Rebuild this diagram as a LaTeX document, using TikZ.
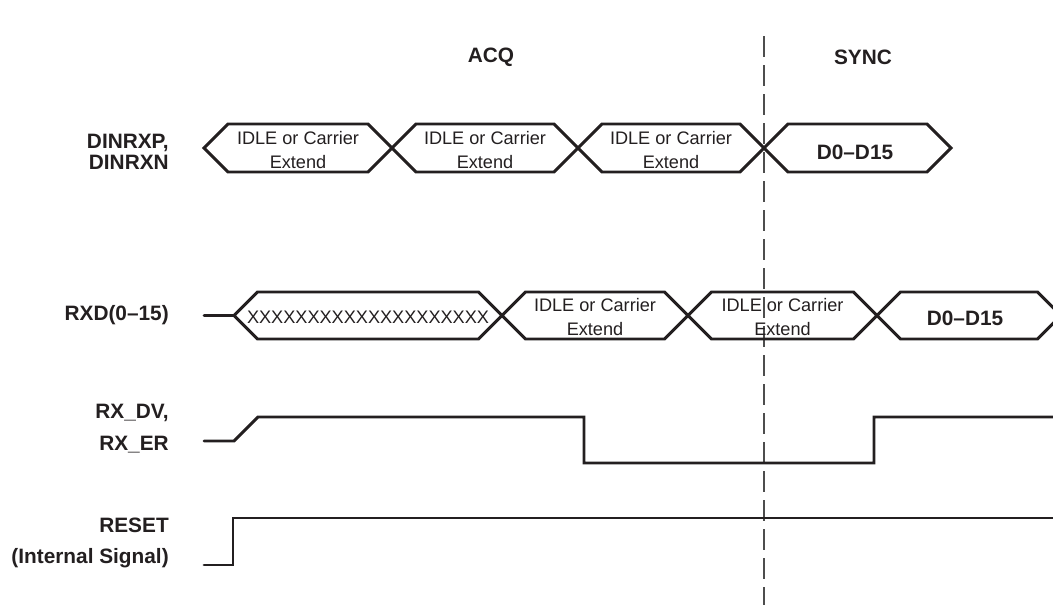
\documentclass[tikz,border=0pt]{standalone}
\usepackage{fontspec}
\setmainfont{Liberation Sans}
\usepackage{xcolor}
\usepackage{tikz}
\usetikzlibrary{positioning}
\definecolor{ink}{HTML}{231F20}
\definecolor{dashgray}{HTML}{4D4D4D}
\tikzset{
  sig/.style={draw=ink, line width=2.1pt, line join=miter, line cap=round},
  phase/.style={draw=dashgray, line width=0.85pt, dash pattern=on 0.525cm off 0.2cm},
  lbl/.style={anchor=east, align=right, text=ink, font=\fontsize{14.8}{15}\selectfont\bfseries, inner sep=0pt},
  busl/.style={align=center, text=ink, font=\fontsize{12.9}{16.4}\selectfont, inner sep=0pt},
  busb/.style={text=ink, font=\fontsize{14.8}{16}\selectfont\bfseries, inner sep=0pt},
}
\newcommand{\buspath}[4]{% left, right, middle, half height
  (#1,#3) -- ++(#4,-#4) -- ({#2-#4},{#3-#4}) -- (#2,#3) -- ({#2-#4},{#3+#4}) -- ({#1+#4},{#3+#4}) -- cycle}
\begin{document}
\begin{tikzpicture}[x=0.025cm, y=-0.025cm]
  \useasboundingbox (0,0) rectangle (1053,605);
  % phase labels and boundary
  \node[busb] (acq) at (491,57) {ACQ};
  \node[busb] (sync) at (863,57) {SYNC};
  \draw[phase] (764,36) -- (764,605);
  % signal names
  \node[lbl] (ndin) at (169,152) {DINRXP,\\DINRXN};
  \node[lbl] (nrxd) at (169,315) {RXD(0--15)};
  \node[lbl] (nrxdv) at (169,429) {RX\_DV,\\[7.8pt]RX\_ER};
  \node[lbl] (nrst) at (169,543) {RESET\\[7pt](Internal Signal)};
  % DINRXP / DINRXN
  \foreach \a/\b/\n in {204/392/1,392/578/2,578/764/3}{
    \draw[sig] \buspath{\a}{\b}{148}{24};
    \node[busl] (din\n) at ({(\a+\b)/2},150) {IDLE or Carrier\\Extend};
  }
  \draw[sig] \buspath{764}{951}{148}{24};
  \node[busb] (din4) at (855,152) {D0--D15};
  % RXD(0-15)
  \begin{scope}
    \clip (0,0) rectangle (1053,605);
    \draw[sig] (204,315.5) -- (234,315.5);
    \draw[sig] \buspath{234}{502}{315.5}{23.5};
    \foreach \a/\b/\n in {502/688/2,688/877/3}{
      \draw[sig] \buspath{\a}{\b}{315.5}{23.5};
      \node[busl] (rxd\n) at ({(\a+\b)/2},317) {IDLE or Carrier\\Extend};
    }
    \draw[sig] \buspath{877}{1061}{315.5}{23.5};
  \end{scope}
  \node[busl] (rxd1) at (368,317) {XXXXXXXXXXXXXXXXXXXX};
  \node[busb] (rxd4) at (965,318) {D0--D15};
  % RX_DV, RX_ER
  \draw[sig] (204,441) -- (234,441) -- (258,417) -- (584,417) -- (584,463) -- (874,463) -- (874,417) -- (1053,417);
  % RESET
  \draw[sig] (204,565) -- (233,565) -- (233,518) -- (1053,518);
\end{tikzpicture}
\end{document}
